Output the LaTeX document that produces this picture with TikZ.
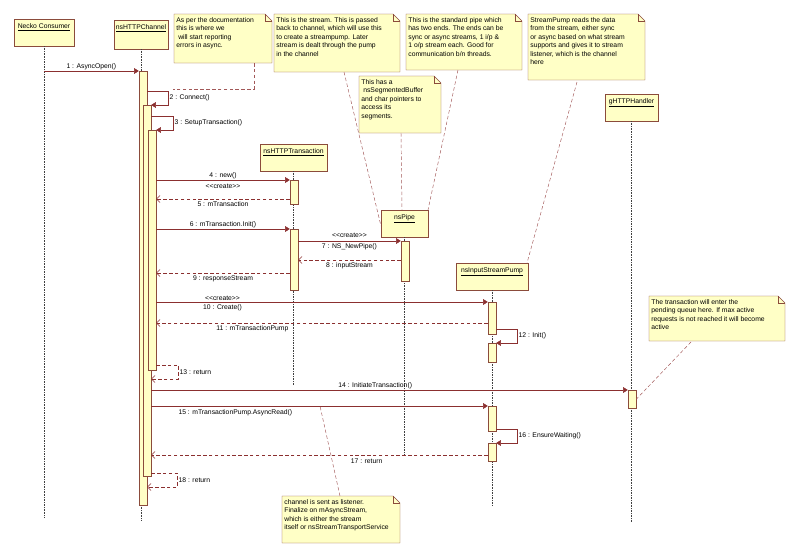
\documentclass[tikz,border=0pt]{standalone}
\usepackage{fontspec}
\setmainfont{Liberation Sans}
\usetikzlibrary{arrows.meta,positioning}
\definecolor{umlline}{HTML}{8B2F2F}
\definecolor{umlfill}{HTML}{FFFFC6}
\definecolor{umlborder}{HTML}{8B4B3B}
\tikzset{
  lbl/.style={font=\fontsize{5.8}{7.2}\selectfont,inner sep=1pt,text=black},
  bar/.style={draw=umlborder,fill=umlfill,inner sep=0pt,minimum width=0.24cm,anchor=north},
  life/.style={densely dotted,black!75},
  msg/.style={umlline,-{Triangle[length=4pt,width=5pt]}},
  ret/.style={umlline,densely dashed,-{Straight Barb[length=3pt,width=6pt]}},
  notelink/.style={umlline!80,densely dashed},
}
\newcommand\crt{{<}{<}create{>}{>}}
% lifeline head: name, x1, y1, x2, y2, text
\newcommand\headbox[6]{
  \draw[draw=umlborder,fill=umlfill] (#2,#3) rectangle (#4,#5);
  \node[lbl,anchor=north] (#1) at ({(#2+#4)/2},#3+3) {\underline{#6}};
  \coordinate (#1-l) at ({(#2+#4)/2},#5);
}
% note: name, x1, y1, x2, y2, text
\newcommand\notebox[6]{
  \draw[draw=umlborder,fill=umlfill] (#2,#3) -- (#4-7,#3) -- (#4,#3+7) -- (#4,#5) -- (#2,#5) -- cycle;
  \draw[umlborder] (#4-7,#3) |- (#4,#3+7);
  \node[lbl,anchor=north west,align=left] (#1) at (#2+1,#3+2) {#6};
}
\begin{document}
\begin{tikzpicture}[x=0.03cm,y=-0.03cm]
  \useasboundingbox (0,0) rectangle (800,558);
  % lifelines
  \headbox{nc}{14}{19}{74}{46}{Necko Consumer}
  \headbox{ch}{114}{20}{168}{49}{nsHTTPChannel}
  \headbox{tr}{260}{144}{327}{171}{nsHTTPTransaction}
  \headbox{pp}{381}{210}{428}{237}{nsPipe}
  \headbox{pu}{456}{263}{528}{290}{nsInputStreamPump}
  \headbox{hh}{605}{94}{658}{121}{gHTTPHandler}
  \draw[life] (nc-l) -- ++(0,472);
  \draw[life] (ch-l) -- ++(0,471);
  \draw[life] (tr-l) -- ++(0,214);
  \draw[life] (pp-l) -- ++(0,218);
  \draw[life] (pu-l) -- ++(0,215);
  \draw[life] (hh-l) -- ++(0,401);
  % activations
  \node[bar,minimum height={434*0.03cm}] (cA) at (143,71) {};
  \node[bar,minimum height={371*0.03cm}] (cB) at (147,105) {};
  \node[bar,minimum height={240*0.03cm}] (cC) at (152,130) {};
  \node[bar,minimum height={24*0.03cm}] (tA) at (294,180) {};
  \node[bar,minimum height={61*0.03cm}] (tB) at (294,229) {};
  \node[bar,minimum height={40*0.03cm}] (pA) at (405,241) {};
  \node[bar,minimum height={32*0.03cm}] (uA) at (492,302) {};
  \node[bar,minimum height={19*0.03cm}] (uB) at (492,343) {};
  \node[bar,minimum height={25*0.03cm}] (uC) at (492,406) {};
  \node[bar,minimum height={18*0.03cm}] (uD) at (492,443) {};
  \node[bar,minimum height={18*0.03cm}] (hA) at (632,390) {};
  % messages
  \draw[msg] (nc-l |- 0,71) -- node[lbl,above] {1 : AsyncOpen()} (cA.west |- 0,71);
  \draw[msg] (cA.east |- 0,91) -- ++(21,0) |- node[lbl,right,pos=0.25] {2 : Connect()} (cB.east |- 0,105);
  \draw[msg] (cB.east |- 0,116) -- ++(22,0) |- node[lbl,right,pos=0.25] {3 : SetupTransaction()} (cC.east |- 0,130);
  \draw[msg] (cC.east |- 0,180) -- node[lbl,above] {4 : new()} node[lbl,below=2pt] {\crt} (tA.west |- 0,180);
  \draw[ret] (tA.west |- 0,199) -- node[lbl,below=1pt] {5 : mTransaction} (cC.east |- 0,199);
  \draw[msg] (cC.east |- 0,229) -- node[lbl,above] {6 : mTransaction.Init()} (tB.west |- 0,229);
  \draw[msg] (tB.east |- 0,241) -- node[lbl,above=2pt] {\crt} node[lbl,below=1pt] {7 : NS\_NewPipe()} (pA.west |- 0,241);
  \draw[ret] (pA.west |- 0,260) -- node[lbl,below=1pt] {8 : inputStream} (tB.east |- 0,260);
  \draw[ret] (tB.west |- 0,273) -- node[lbl,below=1pt] {9 : responseStream} (cC.east |- 0,273);
  \draw[msg] (cC.east |- 0,302) -- node[lbl,above,pos=0.2] {\crt} node[lbl,below=1pt,pos=0.2] {10 : Create()} (uA.west |- 0,302);
  \draw[ret] (uA.west |- 0,323) -- node[lbl,below=1pt,pos=0.71] {11 : mTransactionPump} (cC.east |- 0,323);
  \draw[msg] (uA.east |- 0,329) -- ++(21,0) |- node[lbl,right,pos=0.25] {12 : Init()} (uB.east |- 0,343);
  \draw[ret] (cC.east |- 0,365) -- ++(22,0) |- node[lbl,right,pos=0.25] {13 : return} (cB.east |- 0,379);
  \draw[msg] (cB.east |- 0,390) -- node[lbl,above,pos=0.47] {14 : InitiateTransaction()} (hA.west |- 0,390);
  \draw[msg] (cB.east |- 0,406) -- node[lbl,below=2pt,pos=0.25] {15 : mTransactionPump.AsyncRead()} (uC.west |- 0,406);
  \draw[msg] (uC.east |- 0,429) -- ++(21,0) |- node[lbl,right,pos=0.25] {16 : EnsureWaiting()} (uD.east |- 0,443);
  \draw[ret] (uD.west |- 0,455) -- node[lbl,below=2pt,pos=0.36] {17 : return} (cB.east |- 0,455);
  \draw[ret] (cB.east |- 0,473) -- ++(26,0) |- node[lbl,right,pos=0.25] {18 : return} (cA.east |- 0,487);
  % notes
  \notebox{nDoc}{174}{14}{272}{63}{As per the documentation\\this is where we\\\ will start reporting\\errors in async.}
  \notebox{nStream}{274}{14}{400}{72}{This is the stream. This is passed\\back to channel, which will use this\\to create a streampump. Later\\stream is dealt through the pump\\in the channel}
  \notebox{nBuf}{359}{76}{441}{133}{This has a\\\ nsSegmentedBuffer\\and char pointers to\\access its\\segments.}
  \notebox{nPipe}{406}{14}{522}{70}{This is the standard pipe which\\has two ends. The ends can be\\sync or async streams, 1 i/p \&\\1 o/p stream each. Good for\\communication b/n threads.}
  \notebox{nPump}{528}{14}{645}{80}{StreamPump reads the data\\from the stream, either sync\\or async based on what stream\\supports and gives it to stream\\listener, which is the channel\\here}
  \notebox{nQueue}{649}{296}{785}{341}{The transaction will enter the\\pending queue here. If max active\\requests is not reached it will become\\active}
  \notebox{nListen}{282}{496}{400}{543}{channel is sent as listener.\\Finalize on mAsyncStream,\\which is either the stream\\itself or nsStreamTransportService}
  \coordinate (kDoc) at (254,63);
  \coordinate (kStream) at (344,72);
  \coordinate (kBuf) at (401,133);
  \coordinate (kPipe) at (458,70);
  \coordinate (kPump) at (577,82);
  \coordinate (kQueue) at (691,342);
  \coordinate (kListen) at (340,496);
  \draw[notelink] (kDoc) |- (173,89);
  \draw[notelink] (kStream) -- (381,226);
  \draw[notelink] (kBuf) -- (402,210);
  \draw[notelink] (kPipe) -- (428,210);
  \draw[notelink] (kPump) -- (527,263);
  \draw[notelink] (kQueue) -- (hA.east);
  \draw[notelink] (kListen) -- (320,406);
\end{tikzpicture}
\end{document}
